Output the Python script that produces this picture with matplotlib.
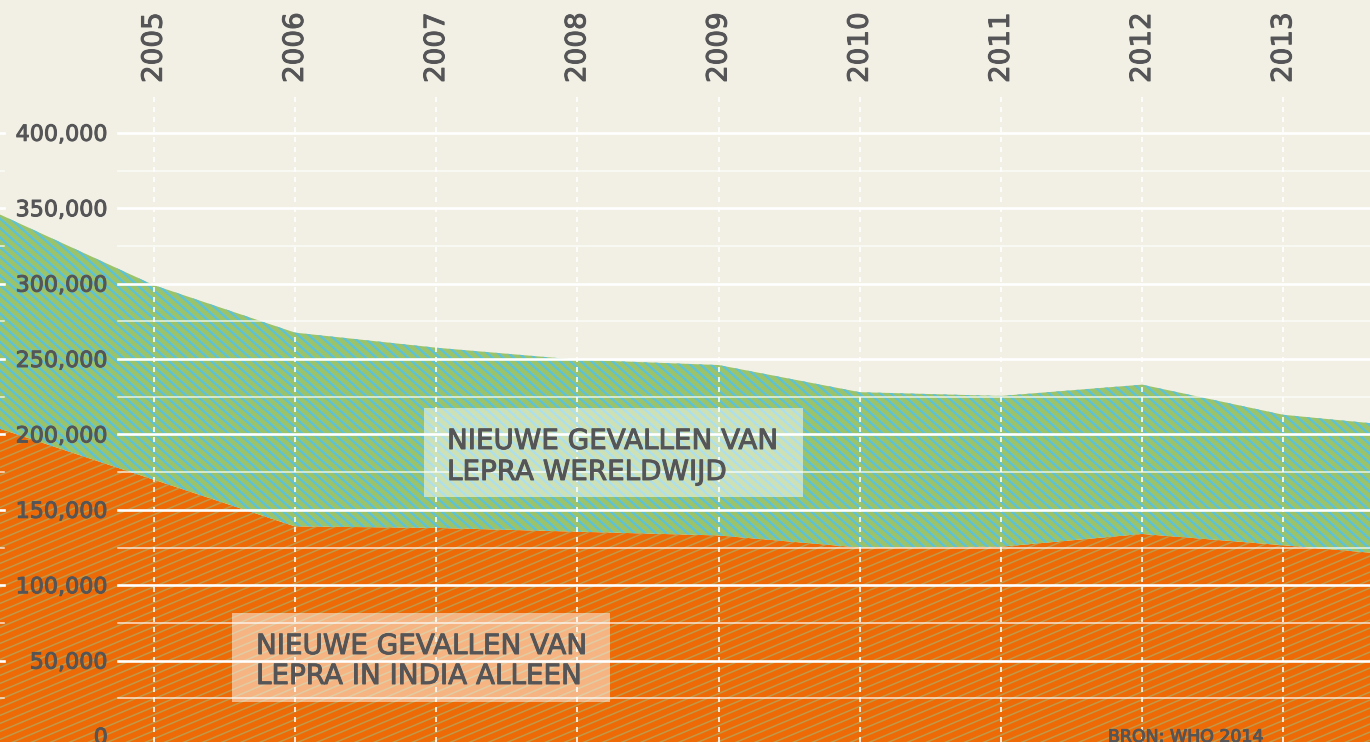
import numpy as np
import matplotlib
matplotlib.use('Agg')
import matplotlib.pyplot as plt
import matplotlib.patheffects as pe
from matplotlib.collections import LineCollection
from matplotlib.patches import Rectangle

# data (2003/2004 and 2014 only carry the cut-off ends)
years = [2003, 2004, 2005, 2006, 2007, 2008, 2009, 2010, 2011, 2012, 2013, 2014]
world = [385000, 342000, 299000, 267500, 257500, 249500, 246000, 228000, 225500, 233000, 213000, 204000]
india = [232000, 201000, 170000, 139000, 138000, 135500, 133000, 125000, 125500, 134000, 126500, 118500]

year_labels = ['2005', '2006', '2007', '2008', '2009', '2010', '2011', '2012', '2013']
y_ticks = [0, 50000, 100000, 150000, 200000, 250000, 300000, 350000, 400000]
grid_lines = list(range(25000, 400001, 25000))

label_world = ['NIEUWE GEVALLEN VAN', 'LEPRA WERELDWIJD']
label_india = ['NIEUWE GEVALLEN VAN', 'LEPRA IN INDIA ALLEEN']
source = 'BRON: WHO 2014'

W, H = 1370, 742
BG = '#f2f0e4'
GREEN = '#9bc46a'
BLUE = '#5cc2da'
ORANGE = '#ee6a07'
TAN = '#c09a48'
TEXT = '#555557'

plt.rcParams['font.family'] = ['DejaVu Sans']
plt.rcParams['lines.scale_dashes'] = False

# a touch of stroke makes DejaVu look closer to the medium weight of the original
heavy = [pe.withStroke(linewidth=0.7, foreground=TEXT)]


def fx(px):
    '''pixel x -> axes fraction'''
    return px / W


def fy(py):
    '''pixel y (from top) -> axes fraction'''
    return 1 - py / H


def hatch(ax, poly, slope, step, color, lw):
    '''
    Draws straight hatch lines (slope in pixel space) clipped to a polygon.
    '''
    span = abs(slope) * W + H
    segs = []
    for c in np.arange(-span, span + H, step):
        x0, x1 = -10, W + 10
        segs.append([(x0 / W, (slope * x0 + c) / H), (x1 / W, (slope * x1 + c) / H)])
    lc = LineCollection(segs, colors=color, linewidths=lw, transform=ax.transAxes, zorder=1.5)
    ax.add_collection(lc)
    lc.set_clip_path(poly.get_paths()[0], ax.transData)


def label_box(ax, x0, y0, x1, y1, tx, base1, base2, lines):
    '''
    Semi transparent white box with two lines of text.
    '''
    ax.add_patch(Rectangle((fx(x0), fy(y1)), fx(x1) - fx(x0), fy(y0) - fy(y1),
                           transform=ax.transAxes, facecolor='white', alpha=0.5,
                           edgecolor='none', zorder=2))
    for b, s in zip([base1, base2], lines):
        ax.text(fx(tx), fy(b), s, transform=ax.transAxes, ha='left', va='baseline',
                fontsize=20, color=TEXT, zorder=5, path_effects=heavy)


fig = plt.figure(figsize=(W / 100, H / 100), dpi=100, facecolor=BG)
ax = fig.add_axes([0, 0, 1, 1])
ax.set_facecolor(BG)
ax.set_axis_off()

# pixel mapping of the reference: 2005 at x=153.7, 141.2 px per year
ax.set_xlim(2005 - 153.7 / 141.2, 2005 + (W - 153.7) / 141.2)
ax.set_ylim(-6 / 1.508 * 1000, (H - 6) / 1.508 * 1000)

# areas
p_india = ax.fill_between(years, -20000, india, color=ORANGE, linewidth=0, zorder=1)
p_world = ax.fill_between(years, india, world, color=GREEN, linewidth=0, zorder=1)
hatch(ax, p_india, 0.42, 8, TAN, 1.1)
hatch(ax, p_world, -0.9, 9.5, BLUE, 1.7)

# horizontal grid, with small stubs on the far left
for g in grid_lines:
    major = g % 50000 == 0
    lw = 1.9 if major else 1.1
    a = 1.0 if major else 0.8
    ax.axhline(g, xmin=fx(118), xmax=1, color='white', lw=lw, alpha=a, zorder=3)
    ax.axhline(g, xmin=0, xmax=fx(4), color='white', lw=lw, alpha=a, zorder=3)

# dashed year lines and rotated year labels
for lab in year_labels:
    yr = int(lab)
    ax.axvline(yr, ymin=0, ymax=fy(96), color='white', lw=1.4, alpha=0.85,
               dashes=(3.6, 3.6), zorder=3.5)
    ax.text(yr, fy(83), lab, transform=ax.get_xaxis_transform(), rotation=90,
            ha='center', va='bottom', fontsize=20, color=TEXT, path_effects=heavy)

# y tick labels
for t in y_ticks:
    ax.text(fx(108), t, f'{t:,}', transform=ax.get_yaxis_transform(),
            ha='right', va='center_baseline', fontsize=16, color=TEXT, zorder=5,
            path_effects=heavy)

label_box(ax, 424, 408, 803, 497, 447, 449, 480, label_world)
label_box(ax, 232, 613, 610, 702, 256, 654, 684, label_india)

ax.text(fx(1108), fy(728), source, transform=ax.transAxes, ha='left', va='top',
        fontsize=12.5, color=TEXT, zorder=5, path_effects=heavy)

fig.savefig('out.png', dpi=100, facecolor=BG)
